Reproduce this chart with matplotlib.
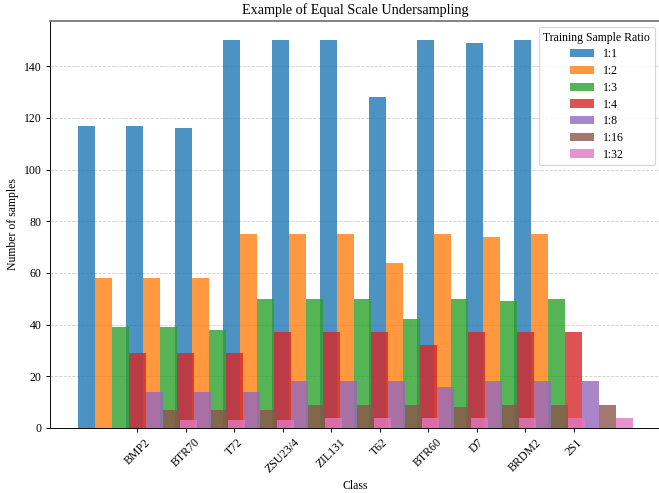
import numpy as np
import matplotlib.pyplot as plt

plt.rcParams['font.family'] = ['Liberation Serif', 'DejaVu Serif']

# data
classes = ['BMP2', 'BTR70', 'T72', 'ZSU23/4', 'ZIL131', 'T62', 'BTR60', 'D7', 'BRDM2', '2S1']
ratios = ['1:1', '1:2', '1:3', '1:4', '1:8', '1:16', '1:32']

r1 = [117, 117, 116, 150, 150, 150, 128, 150, 149, 150]
r2 = [58, 58, 58, 75, 75, 75, 64, 75, 74, 75]
r3 = [39, 39, 38, 50, 50, 50, 42, 50, 49, 50]
r4 = [29, 29, 29, 37, 37, 37, 32, 37, 37, 37]
r8 = [14, 14, 14, 18, 18, 18, 16, 18, 18, 18]
r16 = [7, 7, 7, 9, 9, 9, 8, 9, 9, 9]
r32 = [3, 3, 3, 4, 4, 4, 4, 4, 4, 4]
series = [r1, r2, r3, r4, r8, r16, r32]

colors = ['tab:blue', 'tab:orange', 'tab:green', 'tab:red',
          'tab:purple', 'tab:brown', 'tab:pink']

# layout: 659x493 px at 85 dpi
DPI = 85
fig = plt.figure(figsize=(659 / DPI, 493 / DPI), dpi=DPI)
ax = fig.add_axes([50 / 659, 65 / 493, 611 / 659, 407 / 493])

x = np.arange(len(classes))
width = 0.35

for j, (vals, lab) in enumerate(zip(series, ratios)):
    ax.bar(x + j * width, vals, width, label=lab, color=colors[j], alpha=0.8)

ax.set_xticks(x + 3 * width)
ax.set_xticklabels(classes, rotation=45, fontsize=10)
ax.tick_params(axis='y', labelsize=10)

ax.set_xlabel('Class', fontsize=10)
ax.set_ylabel('Number of samples', fontsize=10)
ax.set_title('Example of Equal Scale Undersampling', fontsize=12)

ax.yaxis.grid(True, linestyle='--', color='gray', alpha=0.4, linewidth=0.7)
ax.set_axisbelow(True)

ax.spines['top'].set_color('#777777')
ax.spines['top'].set_linewidth(1.5)

ax.legend(title='Training Sample Ratio', loc='upper right', fontsize=10,
          title_fontsize=10, labelspacing=0.4)

fig.savefig('out.png', dpi=DPI)
